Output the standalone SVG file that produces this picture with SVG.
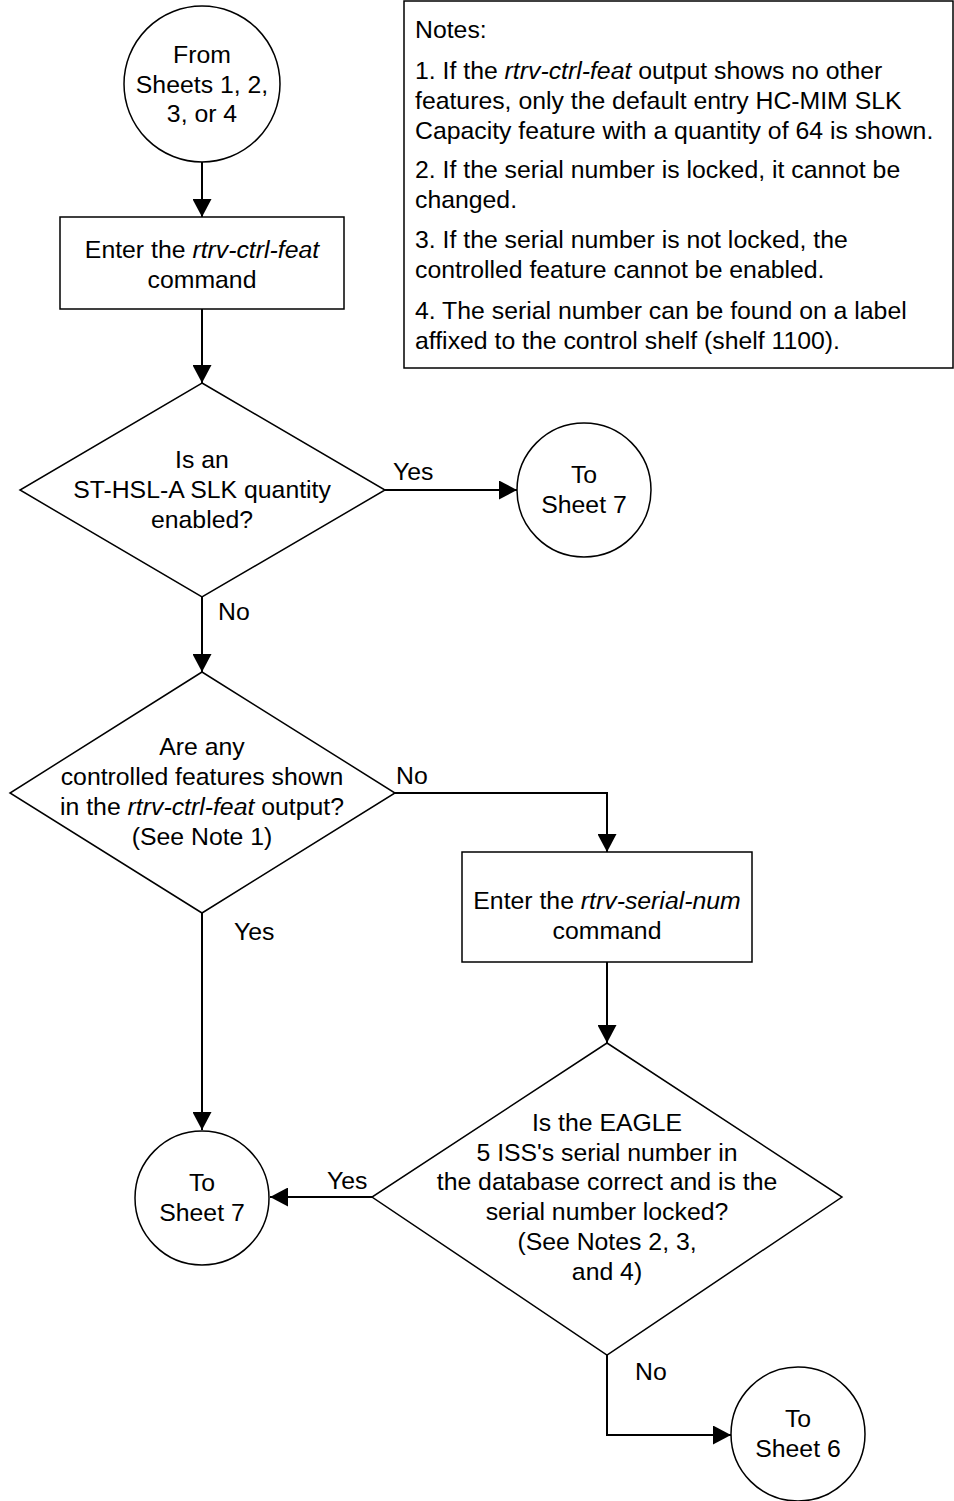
<svg xmlns="http://www.w3.org/2000/svg" width="954" height="1501" viewBox="0 0 954 1501">
<style>
.s{fill:#fff;stroke:#000;stroke-width:1.5}
.c{fill:none;stroke:#000;stroke-width:2}
text{font-family:"Liberation Sans",Arial,sans-serif;font-size:24.8px;fill:#000}
.m{text-anchor:middle}
.i{font-style:italic}
</style>
<defs>
<marker id="a" markerWidth="19" markerHeight="19" refX="18" refY="9.5" orient="auto" markerUnits="userSpaceOnUse">
<path d="M0,0 L18,9.5 L0,19 Z" fill="#000"/>
</marker>
</defs>
<g id="connectors">
<path class="c" d="M202,162 V217" marker-end="url(#a)"/>
<path class="c" d="M202,309 V383" marker-end="url(#a)"/>
<path class="c" d="M385,490 H517" marker-end="url(#a)"/>
<path class="c" d="M202,597 V672" marker-end="url(#a)"/>
<path class="c" d="M395,793 H607 V852" marker-end="url(#a)"/>
<path class="c" d="M202,913 V1130" marker-end="url(#a)"/>
<path class="c" d="M607,962 V1043" marker-end="url(#a)"/>
<path class="c" d="M372,1197 H270" marker-end="url(#a)"/>
<path class="c" d="M607,1355 V1435 H731" marker-end="url(#a)"/>
<text x="393" y="480">Yes</text>
<text x="218" y="620">No</text>
<text x="396" y="784">No</text>
<text x="234" y="940">Yes</text>
<text x="327" y="1189">Yes</text>
<text x="635" y="1380">No</text>
</g>
<g id="start">
<circle class="s" cx="202" cy="84" r="78"/>
<text class="m" x="202" y="63">From</text>
<text class="m" x="202" y="93">Sheets 1, 2,</text>
<text class="m" x="202" y="122">3, or 4</text>
</g>
<g id="notes">
<rect class="s" x="404" y="1" width="549" height="367"/>
<text x="415" y="38">Notes:</text>
<text x="415" y="79">1. If the <tspan class="i">rtrv-ctrl-feat</tspan> output shows no other</text>
<text x="415" y="109">features, only the default entry HC-MIM SLK</text>
<text x="415" y="139">Capacity feature with a quantity of 64 is shown.</text>
<text x="415" y="178">2. If the serial number is locked, it cannot be</text>
<text x="415" y="208">changed.</text>
<text x="415" y="248">3. If the serial number is not locked, the</text>
<text x="415" y="278">controlled feature cannot be enabled.</text>
<text x="415" y="319">4. The serial number can be found on a label</text>
<text x="415" y="349">affixed to the control shelf (shelf 1100).</text>
</g>
<g id="box1">
<rect class="s" x="60" y="217" width="284" height="92"/>
<text class="m" x="202" y="258">Enter the <tspan class="i">rtrv-ctrl-feat</tspan></text>
<text class="m" x="202" y="288">command</text>
</g>
<g id="dec1">
<path class="s" d="M202,383 L385,490 L202,597 L20,490 Z"/>
<text class="m" x="202" y="468">Is an</text>
<text class="m" x="202" y="498">ST-HSL-A SLK quantity</text>
<text class="m" x="202" y="528">enabled?</text>
</g>
<g id="sheet7a">
<circle class="s" cx="584" cy="490" r="67"/>
<text class="m" x="584" y="483">To</text>
<text class="m" x="584" y="513">Sheet 7</text>
</g>
<g id="dec2">
<path class="s" d="M202,672 L395,793 L202,913 L10,793 Z"/>
<text class="m" x="202" y="755">Are any</text>
<text class="m" x="202" y="785">controlled features shown</text>
<text class="m" x="202" y="815">in the <tspan class="i">rtrv-ctrl-feat</tspan> output?</text>
<text class="m" x="202" y="845">(See Note 1)</text>
</g>
<g id="box2">
<rect class="s" x="462" y="852" width="290" height="110"/>
<text class="m" x="607" y="909">Enter the <tspan class="i">rtrv-serial-num</tspan></text>
<text class="m" x="607" y="939">command</text>
</g>
<g id="dec3">
<path class="s" d="M607,1043 L842,1197 L607,1355 L372,1197 Z"/>
<text class="m" x="607" y="1131">Is the EAGLE</text>
<text class="m" x="607" y="1161">5 ISS's serial number in</text>
<text class="m" x="607" y="1190">the database correct and is the</text>
<text class="m" x="607" y="1220">serial number locked?</text>
<text class="m" x="607" y="1250">(See Notes 2, 3,</text>
<text class="m" x="607" y="1280">and 4)</text>
</g>
<g id="sheet7b">
<circle class="s" cx="202" cy="1198" r="67"/>
<text class="m" x="202" y="1191">To</text>
<text class="m" x="202" y="1221">Sheet 7</text>
</g>
<g id="sheet6">
<circle class="s" cx="798" cy="1434" r="67"/>
<text class="m" x="798" y="1427">To</text>
<text class="m" x="798" y="1457">Sheet 6</text>
</g>
</svg>
